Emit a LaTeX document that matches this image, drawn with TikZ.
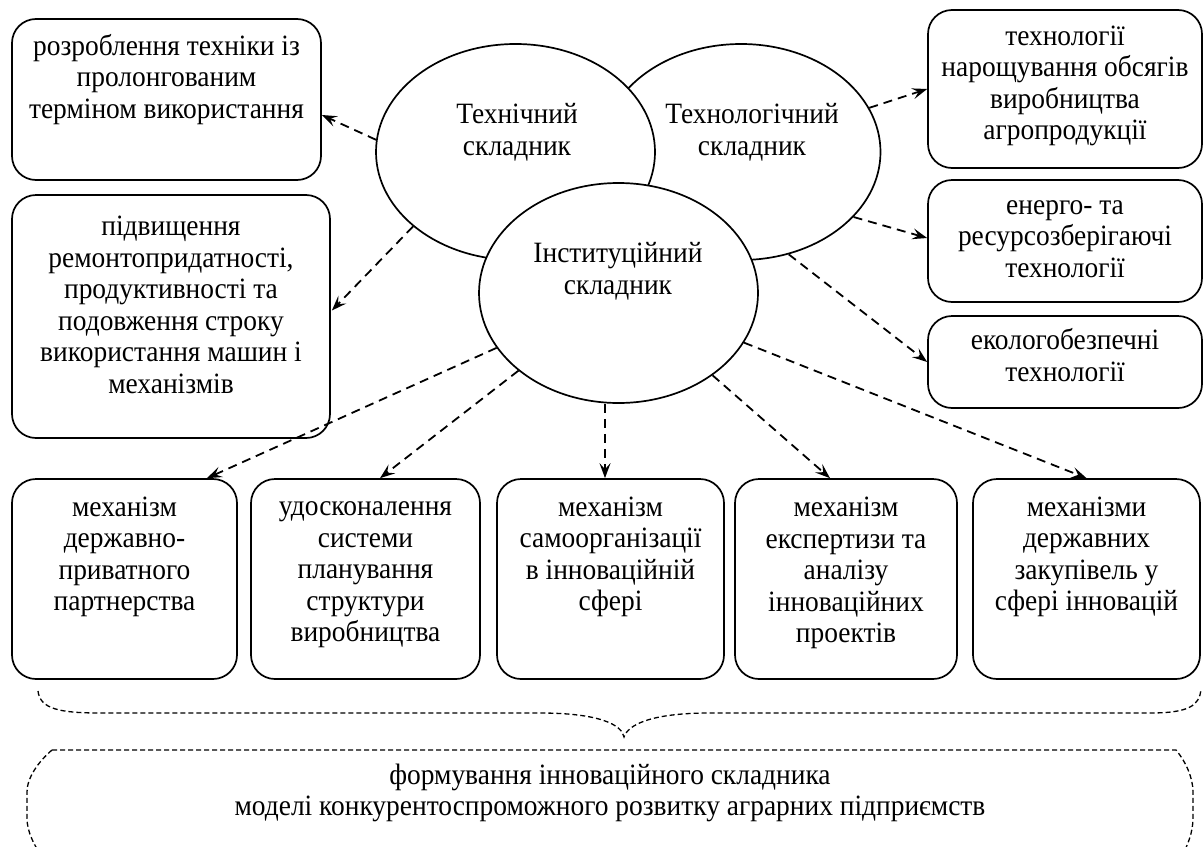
\documentclass[tikz,border=0pt]{standalone}
\usepackage{fontspec}
\setmainfont{Liberation Serif}[FakeStretch=0.93]
\usetikzlibrary{arrows.meta,shapes.geometric,calc}
\begin{document}
\begin{tikzpicture}[x=1pt,y=-1pt,
  box/.style={draw, line width=1.7pt, rounded corners=24pt, inner sep=0pt},
  ell/.style={ellipse, draw, line width=1.7pt, fill=white, inner sep=0pt, minimum width=279pt, minimum height=216pt},
  txt/.style={align=center, inner sep=0pt, font=\fontsize{29.5}{31.5}\selectfont},
  arr/.style={line width=1.8pt, dash pattern=on 9pt off 6pt, -{Stealth[length=15pt,width=11pt,inset=6pt]}},
  fine/.style={line width=1.3pt, dash pattern=on 5pt off 3pt}]
\useasboundingbox (0,0) rectangle (1204,846);

% boxes
\node[box, minimum width=309pt, minimum height=161pt] (tl1) at (166.5,99.5) {};
\node[box, minimum width=318pt, minimum height=243pt] (tl2) at (171,316.5) {};
\node[box, minimum width=274pt, minimum height=158pt] (r1) at (1065,89) {};
\node[box, minimum width=274pt, minimum height=122pt] (r2) at (1065,241) {};
\node[box, minimum width=274pt, minimum height=92pt] (r3) at (1065,362) {};
\node[box, minimum width=225pt, minimum height=200pt] (b1) at (124.5,579) {};
\node[box, minimum width=229pt, minimum height=200pt] (b2) at (365.5,579) {};
\node[box, minimum width=227pt, minimum height=200pt] (b3) at (610.5,579) {};
\node[box, minimum width=222pt, minimum height=200pt] (b4) at (846,579) {};
\node[box, minimum width=227pt, minimum height=200pt] (b5) at (1086.5,579) {};

% ellipses
\node[ell] (tlg) at (741,152) {};
\node[ell] (tech) at (515.5,152) {};
\node[ell, minimum height=220pt] (inst) at (618.5,293) {};

% texts
\node[txt] (tl1t) at (166.5,79.5) {розроблення техніки із\\пролонгованим\\терміном використання};
\node[txt] (tl2t) at (171,305) {підвищення\\ремонтопридатності,\\продуктивності та\\подовження строку\\використання машин і\\механізмів};
\node[txt] (r1t) at (1065,86) {технології\\нарощування обсягів\\виробництва\\агропродукції};
\node[txt] (r2t) at (1065,239) {енерго- та\\ресурсозберігаючі\\технології};
\node[txt] (r3t) at (1065,355) {екологобезпечні\\технології};
\node[txt] (b1t) at (124.5,557) {механізм\\державно-\\приватного\\партнерства};
\node[txt] (b2t) at (365.5,575) {удосконалення\\системи\\планування\\структури\\виробництва};
\node[txt] (b3t) at (610.5,557) {механізм\\самоорганізації\\в інноваційній\\сфері};
\node[txt] (b4t) at (846,573) {механізм\\експертизи та\\аналізу\\інноваційних\\проектів};
\node[txt] (b5t) at (1086.5,557) {механізми\\державних\\закупівель у\\сфері інновацій};
\node[txt] (techt) at (517,132.5) {Технічний\\складник};
\node[txt] (tlgt) at (752,132.5) {Технологічний\\складник};
\node[txt] (instt) at (618,271) {Інституційний\\складник};
\node[txt] (bott) at (610,793) {формування інноваційного складника\\моделі конкурентоспроможного розвитку аграрних підприємств};

% arrows
\draw[arr] (tech.175) -- ([yshift=-15.5pt]tl1.east);
\draw[arr] (tech.216) -- ([yshift=6pt,xshift=1pt]tl2.east);
\draw[arr] (tlg.19) -- (r1.west);
\draw[arr] (tlg.-30) -- ([yshift=3pt]r2.west);
\draw[arr] (tlg.-65) -- (r3.west);
\draw[arr] (inst) -- ([xshift=82.5pt]b1.north);
\draw[arr] (inst) -- ([xshift=14.5pt]b2.north);
\draw[arr] ([xshift=-13.5pt]inst.south) -- ([xshift=-5.5pt]b3.north);
\draw[arr] (inst) -- ([xshift=-16pt]b4.north);
\draw[arr] (inst) -- (b5.north);

% brace
\coordinate (brl) at (38,691);
\coordinate (brm) at (624,737);
\coordinate (brr) at (1201,690);
\draw[fine] (brl) .. controls (40,709) and (60,713) .. (100,713) -- (540,713)
  .. controls (600,713) and (622,725) .. (brm)
  .. controls (628,725) and (650,713) .. (710,713) -- (1150,713)
  .. controls (1190,713) and (1199,705) .. (brr);

% bottom frame
\draw[fine] (52,750) -- (1176,750)
  .. controls (1186,762) and (1193,778) .. (1193,792) -- (1193,818)
  .. controls (1193,832) and (1188,845) .. (1180,860);
\draw[fine] (52,750) .. controls (38,762) and (27,778) .. (27,792) -- (27,818)
  .. controls (27,832) and (34,845) .. (44,860);
\end{tikzpicture}
\end{document}
